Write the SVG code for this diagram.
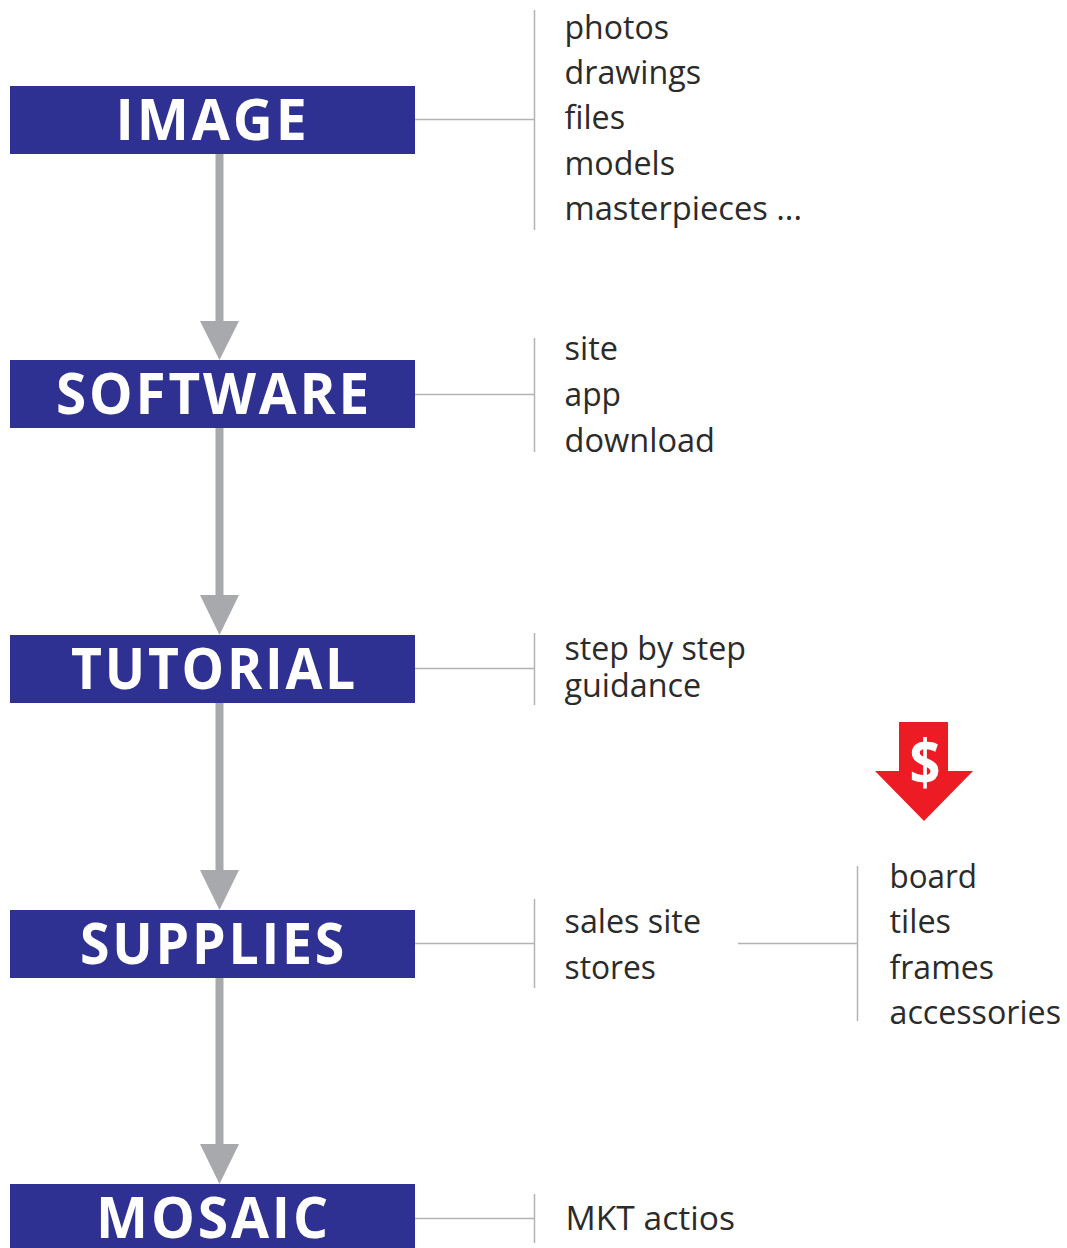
<svg xmlns="http://www.w3.org/2000/svg" width="1067" height="1248" viewBox="0 0 1067 1248">
<style>
.box{fill:#2e3192}
.h{font-family:"Open Sans","Noto Sans",sans-serif;font-weight:700;font-size:58px;letter-spacing:3px;fill:#fff}
.t{font-family:"Open Sans","Noto Sans",sans-serif;font-size:32px;fill:#2b2b2b}
.l{stroke:#b3b3b3;stroke-width:1.5;fill:none}
.a{stroke:#a7a9ac;stroke-width:8;fill:none}
.ah{fill:#a7a9ac}
</style>
<rect width="1067" height="1248" fill="#fff"/>
<g id="connectors">
<path class="a" d="M219.500 153V325M219.500 427V599M219.500 702V874M219.500 977V1149"/>
<path class="ah" d="M200 321H239L219.500 360ZM200 595H239L219.500 635ZM200 870H239L219.500 910ZM200 1144H239L219.500 1184Z"/>
<path class="l" d="M415 119.500H534M534.500 10V230M415 394.500H534M534.500 338V452M415 668.500H534M534.500 633V705M415 943.500H534M534.500 899V988M738 943.500H857M857.500 866V1021M415 1218.500H534M534.500 1194V1243"/>
</g>
<g id="image"><rect class="box" x="10" y="86" width="405" height="68"/><text class="h" x="115.500" y="140" textLength="194" lengthAdjust="spacingAndGlyphs">IMAGE</text></g>
<g id="software"><rect class="box" x="10" y="360" width="405" height="68"/><text class="h" x="56" y="414" textLength="316" lengthAdjust="spacingAndGlyphs">SOFTWARE</text></g>
<g id="tutorial"><rect class="box" x="10" y="635" width="405" height="68"/><text class="h" x="71" y="689" textLength="287" lengthAdjust="spacingAndGlyphs">TUTORIAL</text></g>
<g id="supplies"><rect class="box" x="10" y="910" width="405" height="68"/><text class="h" x="80" y="964" textLength="267" lengthAdjust="spacingAndGlyphs">SUPPLIES</text></g>
<g id="mosaic"><rect class="box" x="10" y="1184" width="405" height="64"/><text class="h" x="96" y="1238" textLength="235" lengthAdjust="spacingAndGlyphs">MOSAIC</text></g>
<g id="image-items">
<text class="t" x="564.500" y="38.500" textLength="104.500" lengthAdjust="spacingAndGlyphs">photos</text>
<text class="t" x="564.500" y="84" textLength="136.500" lengthAdjust="spacingAndGlyphs">drawings</text>
<text class="t" x="564.500" y="129" textLength="60.500" lengthAdjust="spacingAndGlyphs">files</text>
<text class="t" x="564.500" y="175" textLength="110.500" lengthAdjust="spacingAndGlyphs">models</text>
<text class="t" x="564.500" y="220" textLength="237.500" lengthAdjust="spacingAndGlyphs">masterpieces ...</text>
</g>
<g id="software-items">
<text class="t" x="564.500" y="360" textLength="53.500" lengthAdjust="spacingAndGlyphs">site</text>
<text class="t" x="564.500" y="406" textLength="56.500" lengthAdjust="spacingAndGlyphs">app</text>
<text class="t" x="564.500" y="452" textLength="150.500" lengthAdjust="spacingAndGlyphs">download</text>
</g>
<g id="tutorial-items">
<text class="t" x="564.500" y="660" textLength="181.500" lengthAdjust="spacingAndGlyphs">step by step</text>
<text class="t" x="564.500" y="697" textLength="136.500" lengthAdjust="spacingAndGlyphs">guidance</text>
</g>
<g id="supplies-items">
<text class="t" x="564.500" y="933" textLength="136.500" lengthAdjust="spacingAndGlyphs">sales site</text>
<text class="t" x="564.500" y="979" textLength="91.500" lengthAdjust="spacingAndGlyphs">stores</text>
</g>
<g id="supplies-sub-items">
<text class="t" x="889.500" y="888" textLength="87.500" lengthAdjust="spacingAndGlyphs">board</text>
<text class="t" x="889.500" y="933" textLength="61.500" lengthAdjust="spacingAndGlyphs">tiles</text>
<text class="t" x="889.500" y="979" textLength="104.500" lengthAdjust="spacingAndGlyphs">frames</text>
<text class="t" x="889.500" y="1024" textLength="171.500" lengthAdjust="spacingAndGlyphs">accessories</text>
</g>
<g id="mosaic-items"><text class="t" x="565.500" y="1230" textLength="169.500" lengthAdjust="spacingAndGlyphs">MKT actios</text></g>
<g id="price-arrow">
<path fill="#ed1c24" d="M899 722H948V771H973L924 821L875 771H899Z"/>
<text x="925" y="785" text-anchor="middle" textLength="31" lengthAdjust="spacingAndGlyphs" font-family="Open Sans,Noto Sans,sans-serif" font-weight="700" font-size="62" fill="#fff">$</text>
</g>
</svg>
